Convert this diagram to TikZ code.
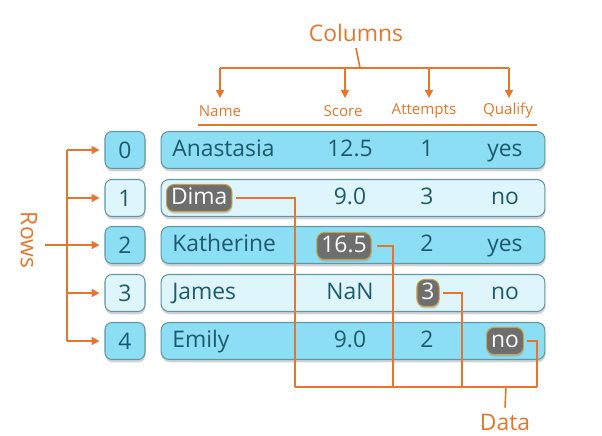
\documentclass[tikz,border=0pt]{standalone}
\usepackage{fontspec}
\setmainfont{Open Sans}
\usetikzlibrary{arrows.meta,shadows}
\definecolor{lineorange}{RGB}{232,118,42}
\definecolor{rowdark}{RGB}{140,222,245}
\definecolor{rowlight}{RGB}{222,245,252}
\definecolor{rowedge}{RGB}{96,150,165}
\definecolor{celltext}{RGB}{28,90,108}
\definecolor{hlfill}{RGB}{110,110,110}
\definecolor{hledge}{RGB}{196,160,70}
\tikzset{
  rowbar/.style={
    draw=rowedge,
    line width=0.6pt,
    rounded corners=0.16cm,
    minimum width=7.68cm,
    minimum height=0.74cm,
    drop shadow={shadow xshift=0.3pt, shadow yshift=-1.6pt, opacity=0.35}
  },
  idxbox/.style={
    rowbar,
    rounded corners=0.14cm,
    minimum width=0.8cm,
    text=celltext,
    font=\fontsize{13}{15}\selectfont
  },
  cell/.style={
    text=celltext,
    inner sep=0pt,
    text height=0.72em,
    text depth=0pt,
    font=\fontsize{13}{15}\selectfont
  },
  hl/.style={
    fill=hlfill,
    draw=hledge,
    line width=0.6pt,
    text=white,
    rounded corners=0.15cm,
    inner xsep=0.09cm,
    minimum height=0.54cm,
    text height=0.72em,
    text depth=0pt,
    font=\fontsize{13}{15}\selectfont,
    drop shadow={shadow xshift=0.3pt, shadow yshift=-1.2pt, opacity=0.3}
  },
  link/.style={draw=lineorange, line width=0.9pt},
  tip/.style={link, -{Triangle[width=4.5pt,length=4.5pt]}},
  tag/.style={text=lineorange, font=\fontsize{13}{15}\selectfont},
  colhead/.style={text=lineorange, inner sep=0.1cm, font=\fontsize{8.6}{10}\selectfont}
}
\begin{document}
\begin{tikzpicture}[x=0.02cm, y=-0.02cm]
  \useasboundingbox (0,0) rectangle (602,436);
  % rows of the frame
  \foreach \i/\y/\fl/\nm/\sc/\at/\ql in {
      0/150/rowdark/Anastasia/12.5/1/yes,
      1/198/rowlight//9.0/3/no,
      2/245/rowdark/Katherine//2/yes,
      3/293/rowlight/James/NaN//no,
      4/341/rowdark/Emily/9.0/2/}{
    \node[idxbox, fill=\fl] (idx\i) at (125,\y) {\i};
    \node[rowbar, fill=\fl] (row\i) at (353,\y) {};
    \node[cell, anchor=west] (name\i) at (172,\y) {\nm};
    \node[cell] (score\i) at (350,\y) {\sc};
    \node[cell] (att\i) at (427,\y) {\at};
    \node[cell] (qual\i) at (505,\y) {\ql};
  }
  % picked values
  \node[hl, anchor=west] (hDima) at (166,198) {Dima};
  \node[hl] (hScore) at (344,246) {16.5};
  \node[hl] (hAtt) at (428,293) {3};
  \node[hl] (hQual) at (505,341) {no};

  % columns
  \node[tag] (cols) at (356,33) {Columns};
  \coordinate (cjoin) at (360,68);
  \coordinate (cleft) at (220,68);
  \coordinate (cright) at (509,68);
  \node[colhead] (hdName) at (220,111) {Name};
  \node[colhead] (hdScore) at (343,111) {Score};
  \node[colhead] (hdAtt) at (424,111) {Attempts};
  \node[colhead] (hdQual) at (508,111) {Qualify};
  \draw[link] (cols.south) -- (cjoin);
  \draw[link] (cleft) -- (cright);
  \foreach \h/\x in {hdName/220, hdScore/345, hdAtt/429, hdQual/509}
    \draw[tip] (\x,68) -- (\x,98);
  \coordinate (ulA) at (198,125);
  \coordinate (ulB) at (537,125);
  \draw[link] (ulA) -- (ulB);

  % rows
  \node[tag, rotate=-90] (rowslbl) at (29,240) {Rows};
  \coordinate (rtop) at (67,150);
  \coordinate (rbot) at (67,341);
  \draw[link] (rtop) -- (rbot);
  \draw[tip, shorten >=2.8pt] (45,245) -- (idx2.west);
  \foreach \i in {0,1,3,4}
    \draw[tip, shorten >=2.8pt] (rtop |- idx\i.west) -- (idx\i.west);

  % data
  \coordinate (dj1) at (295,387);
  \coordinate (dj2) at (393,387);
  \coordinate (dj3) at (462,387);
  \coordinate (dj4) at (537,387);
  \coordinate (dstem) at (506,387);
  \node[tag] (datalbl) at (505,422) {Data};
  \draw[link, shorten <=2pt] (hDima.east) -| (dj1);
  \draw[link, shorten <=3pt] (hScore.east) -| (dj2);
  \draw[link, shorten <=2pt] (hAtt.east) -| (dj3);
  \draw[link, shorten <=2pt] (hQual.east) -| (dj4);
  \draw[link] (dj1) -- (dj4);
  \draw[link] (dstem) -- (datalbl.north);
\end{tikzpicture}
\end{document}
